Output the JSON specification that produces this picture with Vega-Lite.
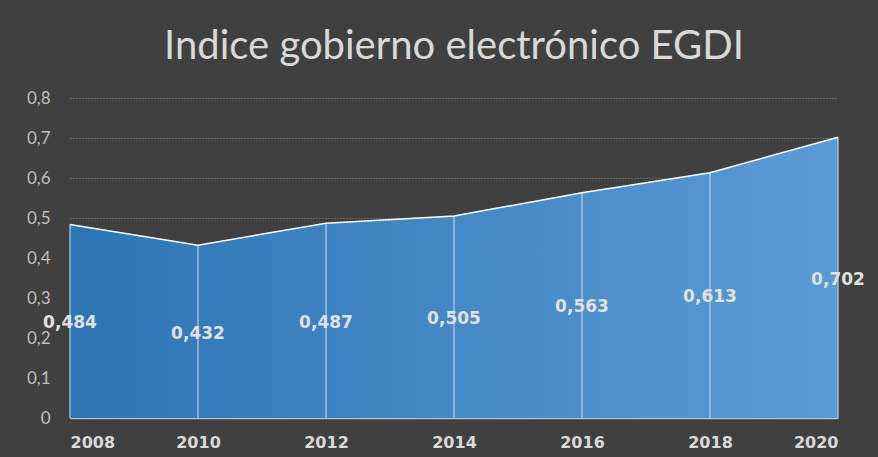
{
  "$schema": "https://vega.github.io/schema/vega-lite/v6.json",
  "width": 768,
  "height": 320,
  "autosize": "none",
  "padding": {"left": 70, "top": 98, "right": 40, "bottom": 39},
  "background": "#404040",
  "title": {
    "text": "Indice gobierno electrónico EGDI",
    "font": "Lato",
    "fontSize": 40,
    "fontWeight": "normal",
    "color": "#d9d9d9",
    "anchor": "middle",
    "offset": 22
  },
  "config": {
    "view": {"stroke": null},
    "axisY": {
      "title": null,
      "values": [0, 0.1, 0.2, 0.3, 0.4, 0.5, 0.6, 0.7, 0.8],
      "labelExpr": "datum.value == 0 ? '0' : replace(format(datum.value, '.1f'), '.', ',')",
      "labelOverlap": false,
      "domain": false,
      "ticks": false,
      "gridColor": "#8c8c8c",
      "gridDash": [1, 2],
      "gridWidth": 1,
      "labelColor": "#bfbfbf",
      "labelFont": "Lato",
      "labelFontSize": 17,
      "labelPadding": 20
    }
  },
  "data": {
    "values": [
      {"year": 2008, "v": 0.484},
      {"year": 2010, "v": 0.432},
      {"year": 2012, "v": 0.487},
      {"year": 2014, "v": 0.505},
      {"year": 2016, "v": 0.563},
      {"year": 2018, "v": 0.613},
      {"year": 2020, "v": 0.702}
    ]
  },
  "encoding": {
    "x": {
      "field": "year",
      "type": "quantitative",
      "scale": {"domain": [2008, 2020], "nice": false, "zero": false},
      "axis": {
        "title": null,
        "values": [2008, 2010, 2012, 2014, 2016, 2018, 2020],
        "format": "d",
        "grid": false,
        "ticks": false,
        "domainColor": "#bfbfbf",
        "domainWidth": 1.5,
        "labelColor": "#d9d9d9",
        "labelFont": "DejaVu Sans",
        "labelFontWeight": "bold",
        "labelFontSize": 16,
        "labelPadding": 16
      }
    },
    "y": {
      "field": "v",
      "type": "quantitative",
      "title": null,
      "scale": {"domain": [0, 0.8], "nice": false}
    }
  },
  "layer": [
    {
      "mark": {
        "type": "area",
        "color": {
          "gradient": "linear",
          "x1": 0, "x2": 1, "y1": 0, "y2": 0,
          "stops": [
            {"offset": 0, "color": "#2e75b6"},
            {"offset": 1, "color": "#5b9bd5"}
          ]
        }
      }
    },
    {
      "mark": {"type": "rule", "color": "#c5dbf0", "opacity": 0.7, "strokeWidth": 1.5},
      "encoding": {
        "y2": {"datum": 0}
      }
    },
    {
      "mark": {"type": "line", "color": "#ffffff", "strokeWidth": 1.5}
    },
    {
      "transform": [
        {"calculate": "datum.v / 2", "as": "mid"},
        {"calculate": "replace(format(datum.v, '.3f'), '.', ',')", "as": "label"}
      ],
      "mark": {"type": "text", "font": "DejaVu Sans", "fontWeight": "bold", "fontSize": 17, "color": "#e0e0e0", "baseline": "middle", "dy": 2},
      "encoding": {
        "y": {"field": "mid", "type": "quantitative", "title": null},
        "text": {"field": "label", "type": "nominal"}
      }
    }
  ]
}
